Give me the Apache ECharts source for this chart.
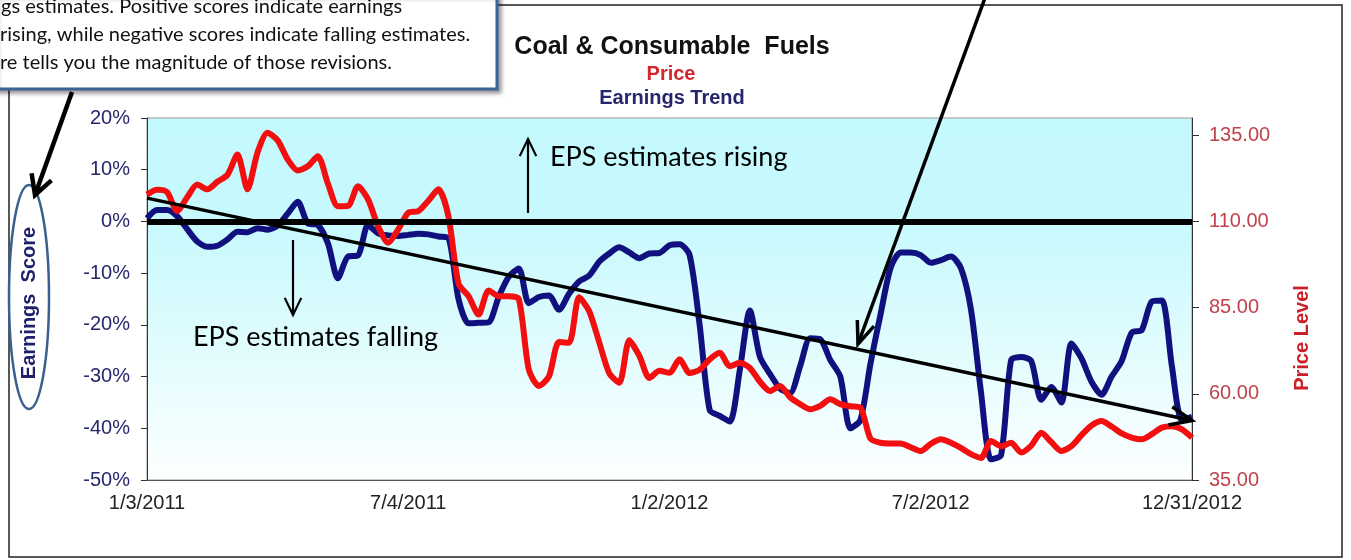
<!DOCTYPE html>
<html>
<head>
<meta charset="utf-8">
<style>
html, body { margin: 0; padding: 0; background: #fff; }
#chart { width: 1351px; height: 560px; }
</style>
<script src="https://cdn.jsdelivr.net/npm/echarts@6/dist/echarts.min.js"></script>
</head>
<body>
<div id="chart"></div>
<script>
// weekly readings, Monday 1/3/2011 .. Monday 12/31/2012
const weekCount = 105;
const tickLabels = ['1/3/2011', '7/4/2011', '1/2/2012', '7/2/2012', '12/31/2012'];

const earningsScore = [
  0.6, 2.2, 2.2, 1.0, -1.5, -3.9, -4.9, -4.7, -3.5, -2.0,
  -2.1, -1.3, -1.6, -0.8, 1.5, 3.8, -0.4, -0.7, -4.2, -11.0,
  -6.8, -6.6, -0.7, -2.3, -2.7, -2.8, -2.6, -2.4, -2.5, -2.9,
  -3.2, -15.0, -19.7, -19.6, -19.5, -14.6, -10.7, -9.1, -15.8, -14.6,
  -14.3, -17.1, -14.0, -11.6, -10.5, -7.8, -6.2, -5.0, -6.0, -7.1,
  -6.2, -6.1, -4.6, -4.4, -6.5, -20.0, -36.5, -37.6, -38.7, -28.7,
  -17.2, -26.2, -29.5, -32.3, -33.2, -28.0, -22.6, -22.8, -26.8, -30.0,
  -40.0, -38.4, -27.5, -18.0, -9.0, -6.0, -6.0, -6.5, -8.0, -7.5,
  -6.8, -9.0, -17.0, -33.0, -46.0, -45.2, -26.8, -26.2, -27.0, -34.5,
  -32.0, -35.0, -23.6, -26.5, -31.0, -33.5, -30.0, -27.0, -21.5, -21.0,
  -15.5, -15.3, -28.0, -38.4, -37.8
];

const priceLevel = [
  117.8, 119.2, 118.5, 113.0, 117.0, 120.7, 119.3, 121.5, 123.5, 129.4,
  119.3, 130.0, 135.7, 133.5, 128.0, 124.8, 126.0, 128.9, 121.0, 114.4,
  114.5, 120.2, 116.4, 108.6, 103.8, 107.7, 112.5, 113.0, 116.0, 119.3,
  111.5, 92.0, 88.3, 83.0, 90.0, 88.3, 88.3, 87.5, 67.0, 62.3,
  65.0, 75.0, 74.8, 88.0, 84.0, 75.0, 66.0, 63.2, 75.5, 71.0,
  64.6, 66.7, 66.1, 70.0, 66.0, 67.0, 70.0, 71.9, 68.0, 69.0,
  67.5, 63.5, 60.8, 62.3, 59.0, 57.0, 55.5, 56.5, 58.4, 57.0,
  56.4, 56.0, 47.0, 45.8, 45.6, 45.6, 44.5, 43.4, 45.5, 46.8,
  45.8, 44.3, 42.5, 41.4, 46.3, 44.8, 45.8, 43.0, 45.0, 48.7,
  46.0, 43.4, 44.8, 48.0, 50.8, 52.1, 50.5, 48.5, 47.3, 46.8,
  48.3, 50.2, 50.6, 49.7, 47.3
];

// hand-drawn trend arrow, in data terms [week index, earnings %]
const trendStart = [0, 4.5];
const trendEnd = [103.7, -38.5];

const weeks = [];
for (let i = 0; i < weekCount; i++) {
  const d = new Date(2011, 0, 3 + i * 7);
  weeks.push((d.getMonth() + 1) + '/' + d.getDate() + '/' + d.getFullYear());
}

const chart = echarts.init(document.getElementById('chart'));

function arrowHead(x0, y0, x1, y1, len, ang) {
  const a = Math.atan2(y1 - y0, x1 - x0);
  return [
    [x1 - len * Math.cos(a - ang), y1 - len * Math.sin(a - ang)],
    [x1, y1],
    [x1 - len * Math.cos(a + ang), y1 - len * Math.sin(a + ang)]
  ];
}

function arrow(x0, y0, x1, y1, width, len, ang) {
  return [
    {type: 'line', z: 100, shape: {x1: x0, y1: y0, x2: x1, y2: y1}, style: {stroke: '#000', lineWidth: width}},
    {type: 'polyline', z: 100, shape: {points: arrowHead(x0, y0, x1, y1, len, ang)}, style: {stroke: '#000', lineWidth: width, fill: null}}
  ];
}

const boxFont = '20px Lato, "Open Sans", sans-serif';
const noteFont = '27px Lato, "Open Sans", sans-serif';

const graphics = [
  // outer frame
  {type: 'rect', z: 0, shape: {x: 9, y: 5, width: 1333, height: 552}, style: {fill: null, stroke: '#222', lineWidth: 1.5}},
  // callout box (cut off at the top left)
  {type: 'rect', z: 110, shape: {x: -6, y: -6, width: 503, height: 95},
    style: {fill: '#fff', stroke: '#3d6298', lineWidth: 3, shadowColor: 'rgba(0,0,0,0.35)', shadowBlur: 4, shadowOffsetX: 3, shadowOffsetY: 3}},
  {type: 'text', z: 111, x: 1, y: 7, style: {text: 'gs estimates. Positive scores indicate earnings', font: boxFont, fill: '#111', verticalAlign: 'middle'}},
  {type: 'text', z: 111, x: 0, y: 35, style: {text: 'rising, while negative scores indicate falling estimates.', font: boxFont, fill: '#111', verticalAlign: 'middle'}},
  {type: 'text', z: 111, x: 0, y: 63, style: {text: 're tells you the magnitude of those revisions.', font: boxFont, fill: '#111', verticalAlign: 'middle'}},
  // axis titles
  {type: 'text', z: 50, x: 29, y: 303, rotation: Math.PI / 2,
    style: {text: 'Earnings  Score', font: 'bold 20px Arial, "Liberation Sans", sans-serif', fill: '#1f1f6b', align: 'center', verticalAlign: 'middle'}},
  {type: 'ellipse', z: 50, shape: {cx: 29, cy: 297, rx: 20, ry: 112}, style: {fill: null, stroke: '#3a6090', lineWidth: 2.5}},
  {type: 'text', z: 50, x: 1302, y: 338, rotation: Math.PI / 2,
    style: {text: 'Price Level', font: 'bold 20px Arial, "Liberation Sans", sans-serif', fill: '#cc1f26', align: 'center', verticalAlign: 'middle'}},
  // notes
  {type: 'text', z: 100, x: 550, y: 157, style: {text: 'EPS estimates rising', font: noteFont, fill: '#000', verticalAlign: 'middle'}},
  {type: 'text', z: 100, x: 193, y: 337, style: {text: 'EPS estimates falling', font: noteFont, fill: '#000', verticalAlign: 'middle'}}
]
  .concat(arrow(72, 92, 35, 195, 4.5, 22, 0.5))
  .concat(arrow(985, -2, 858, 344, 3.5, 24, 0.38))
  .concat(arrow(528, 213, 528, 139, 2.2, 19, 0.45))
  .concat(arrow(293, 240, 293, 315, 2.2, 19, 0.45));

chart.setOption({
  backgroundColor: '#fff',
  animation: false,
  title: [
    {text: 'Coal & Consumable  Fuels', left: 667, top: 30, textAlign: 'center',
      textStyle: {fontFamily: 'Arial, "Liberation Sans", sans-serif', fontWeight: 'bold', fontSize: 25, color: '#111'}},
    {text: 'Price', left: 666, top: 59, textAlign: 'center',
      textStyle: {fontFamily: 'Arial, "Liberation Sans", sans-serif', fontWeight: 'bold', fontSize: 20, color: '#d4262c'}},
    {text: 'Earnings Trend', left: 667, top: 83, textAlign: 'center',
      textStyle: {fontFamily: 'Arial, "Liberation Sans", sans-serif', fontWeight: 'bold', fontSize: 20, color: '#26266e'}}
  ],
  grid: {
    left: 147, right: 159, top: 118, bottom: 80,
    show: true, borderColor: '#999', borderWidth: 1,
    backgroundColor: {
      type: 'linear', x: 0, y: 0, x2: 0, y2: 1,
      colorStops: [
        {offset: 0, color: '#c4f9fd'},
        {offset: 0.29, color: '#c7f9fd'},
        {offset: 1, color: '#fdffff'}
      ]
    }
  },
  xAxis: {
    type: 'category', data: weeks, boundaryGap: false,
    axisLine: {onZero: false, lineStyle: {color: '#555', width: 1}},
    axisTick: {show: false},
    axisLabel: {
      interval: (idx, val) => tickLabels.indexOf(val) >= 0,
      color: '#222', fontSize: 20, fontFamily: 'Arial, "Liberation Sans", sans-serif', margin: 13
    },
    splitLine: {show: false}
  },
  yAxis: [
    {
      type: 'value', min: -50, max: 20, interval: 10, position: 'left',
      axisLine: {show: true, lineStyle: {color: '#333'}},
      axisTick: {show: true, length: 6, lineStyle: {color: '#333'}},
      axisLabel: {formatter: '{value}%', color: '#27276b', fontSize: 20, fontFamily: 'Arial, "Liberation Sans", sans-serif', margin: 17},
      splitLine: {show: false}
    },
    {
      type: 'value', min: 35, max: 140, interval: 25, position: 'right',
      axisLine: {show: true, lineStyle: {color: '#333'}},
      axisTick: {show: true, length: 7, lineStyle: {color: '#333'}},
      axisLabel: {formatter: v => v.toFixed(2), showMaxLabel: false, color: '#c0424a', fontSize: 20, fontFamily: 'Arial, "Liberation Sans", sans-serif', margin: 17},
      splitLine: {show: false}
    }
  ],
  series: [
    {
      name: 'Earnings Trend', type: 'line', yAxisIndex: 0, data: earningsScore,
      smooth: 0.25, symbol: 'none', z: 2,
      lineStyle: {color: '#10117f', width: 6},
      markLine: {
        silent: true, symbol: 'none', label: {show: false},
        lineStyle: {color: '#000', width: 6, type: 'solid'},
        data: [{yAxis: 0}]
      }
    },
    {
      name: 'Price', type: 'line', yAxisIndex: 1, data: priceLevel,
      smooth: 0.25, symbol: 'none', z: 3,
      lineStyle: {color: '#f20f0f', width: 6}
    }
  ],
  graphic: graphics
});

// trend arrow anchored on the earnings axis
const p0 = chart.convertToPixel({gridIndex: 0}, trendStart);
const p1 = chart.convertToPixel({gridIndex: 0}, trendEnd);
chart.setOption({
  graphic: graphics.concat(arrow(p0[0], p0[1], p1[0], p1[1], 3.5, 24, 0.4))
});
</script>
</body>
</html>
